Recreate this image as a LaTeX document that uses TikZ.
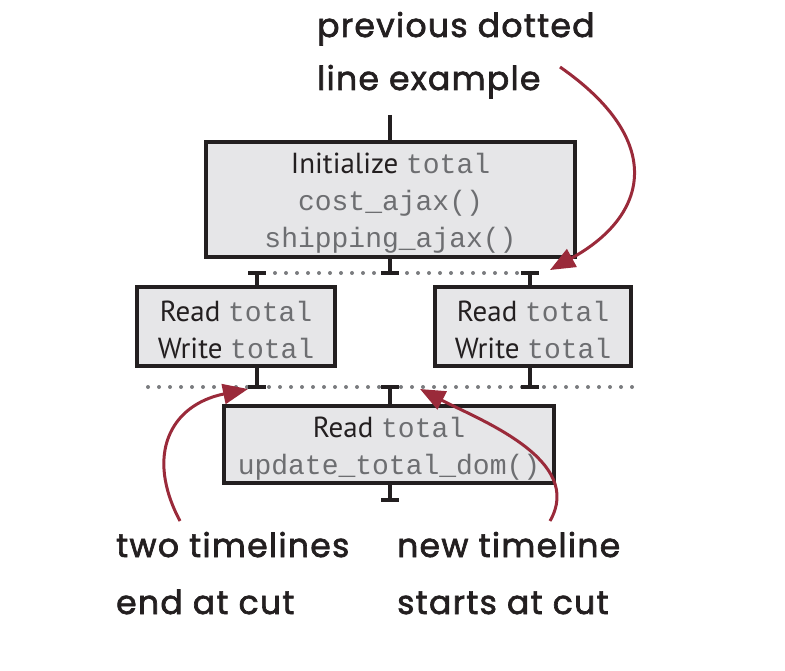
\documentclass[tikz,border=0pt]{standalone}
\usepackage{fontspec}
\usetikzlibrary{arrows.meta}
\newfontfamily\handfont{Poppins}[LetterSpace=4.0,FakeBold=2]
\newfontfamily\boxfont{PT Sans}
\newfontfamily\codefont{Liberation Mono}
\definecolor{boxfill}{HTML}{E6E6E8}
\definecolor{ink}{HTML}{231F20}
\definecolor{codegray}{HTML}{6D6E71}
\definecolor{dotgray}{HTML}{7A7C7F}
\definecolor{arrowred}{HTML}{9A2A3A}
\newcommand{\cd}[1]{{\codefont\fontsize{28}{37}\selectfont\color{codegray}#1}}
\newcommand{\firstline}{\rule{0pt}{28pt}}
\begin{document}
\begin{tikzpicture}[x=1pt,y=-1pt,
  stepbox/.style={draw=ink, line width=4pt, fill=boxfill, inner sep=0pt, align=center,
    font=\boxfont\fontsize{29}{37}\selectfont, text=ink},
  stub/.style={draw=ink, line width=4pt},
  cutdot/.style={fill=dotgray},
  callout/.style={draw=arrowred, line width=3pt, -{Triangle[length=25pt,width=20pt]}},
  note/.style={text=ink, inner sep=0pt, align=left}
]
\useasboundingbox (0,0) rectangle (785,671);

% boxes
\node[stepbox, minimum width=369pt, minimum height=115pt] (init) at (390.5,199.5)
  {\firstline Initialize \cd{total}\\\cd{cost\_ajax()}\\\cd{shipping\_ajax()}};
\node[stepbox, minimum width=198pt, minimum height=79pt] (lbox) at (236,326.5)
  {\firstline Read \cd{total}\\Write \cd{total}};
\node[stepbox, minimum width=196pt, minimum height=79pt] (rbox) at (533,326.5)
  {\firstline Read \cd{total}\\Write \cd{total}};
\node[stepbox, minimum width=330pt, minimum height=77pt] (bbox) at (389,444.5)
  {\firstline Read \cd{total}\\\cd{update\_total\_dom()}};

% coordinates
\coordinate (topin) at (390,115);
\coordinate (t1m) at (390,273);
\coordinate (t1l) at (257,273);
\coordinate (t1r) at (530,273);
\coordinate (t2m) at (390,387);
\coordinate (t2l) at (257,387);
\coordinate (t2r) at (530,387);
\coordinate (t3m) at (390,500);

% cut lines (dotted)
\foreach \i in {0,...,22} \fill[cutdot] (275+11*\i,273) circle (2pt);
\foreach \i in {0,...,44} \fill[cutdot] (148+11*\i,387) circle (2pt);

% stubs
\draw[stub] (topin) -- (topin |- init.north);
\draw[stub] (init.south -| t1m) -- (t1m);
\draw[stub] ([xshift=-9pt]t1m) -- ([xshift=9pt]t1m);
\draw[stub] (t1l) -- (t1l |- lbox.north);
\draw[stub] ([xshift=-9pt]t1l) -- ([xshift=9pt]t1l);
\draw[stub] (t1r) -- (t1r |- rbox.north);
\draw[stub] ([xshift=-9pt]t1r) -- ([xshift=9pt]t1r);
\draw[stub] (lbox.south -| t2l) -- (t2l);
\draw[stub] ([xshift=-9pt]t2l) -- ([xshift=9pt]t2l);
\draw[stub] (rbox.south -| t2r) -- (t2r);
\draw[stub] ([xshift=-9pt]t2r) -- ([xshift=9pt]t2r);
\draw[stub] (t2m) -- (t2m |- bbox.north);
\draw[stub] ([xshift=-9pt]t2m) -- ([xshift=9pt]t2m);
\draw[stub] (bbox.south -| t3m) -- (t3m);
\draw[stub] ([xshift=-9pt]t3m) -- ([xshift=9pt]t3m);

% notes (base anchor = baseline of last line)
\node[note, anchor=base west, font=\handfont\fontsize{33}{53}\selectfont] (n1) at (317,90)
  {previous dotted\\line example};
\node[note, anchor=base west, font=\handfont\fontsize{33}{57}\selectfont] (n2) at (116,614)
  {two timelines\\end at cut};
\node[note, anchor=base west, font=\handfont\fontsize{33}{57}\selectfont] (n3) at (397,614)
  {new timeline\\starts at cut};

% callout arrows
\coordinate (a1s) at (560,67);
\coordinate (a1e) at (550,270);
\coordinate (a2s) at (180,521);
\coordinate (a2e) at (248,389);
\coordinate (a3s) at (550,521);
\coordinate (a3e) at (420,389);
\draw[callout] (a1s) .. controls (665,140) and (650,215) .. (a1e);
\draw[callout] (a2s) .. controls (145,455) and (170,405) .. (a2e);
\draw[callout] (a3s) .. controls (585,460) and (480,420) .. (a3e);
\end{tikzpicture}
\end{document}
